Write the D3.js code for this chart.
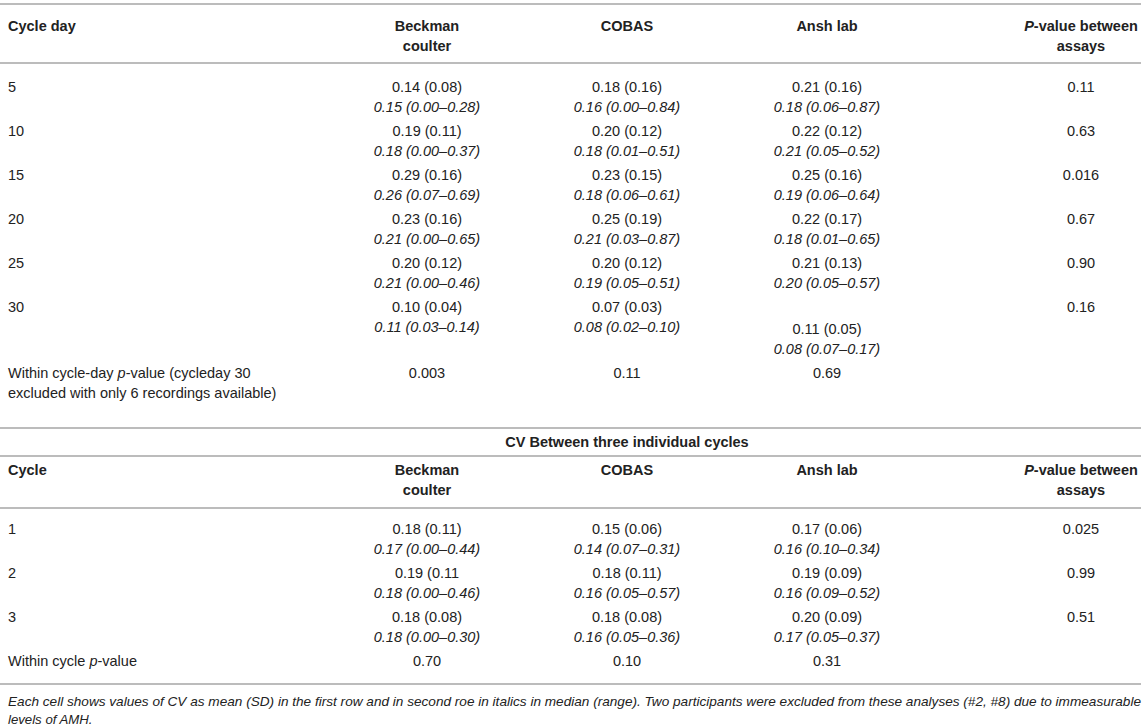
<!DOCTYPE html>
<html>
<head>
<meta charset="utf-8">
<script src="https://cdn.jsdelivr.net/npm/d3@7"></script>
<style>
  body { margin: 0; background: #fff; }
  svg text { font-family: "Liberation Sans", Arial, Helvetica, sans-serif; fill: #222; }
</style>
</head>
<body>
<svg id="table" width="1145" height="728"></svg>
<script>
// column headers
var assays = ["Beckman coulter", "COBAS", "Ansh lab"];

// CV between cycle days
var cycleDays = ["5", "10", "15", "20", "25", "30"];
var beckmanDayMean = ["0.14 (0.08)", "0.19 (0.11)", "0.29 (0.16)", "0.23 (0.16)", "0.20 (0.12)", "0.10 (0.04)"];
var beckmanDayMedian = ["0.15 (0.00–0.28)", "0.18 (0.00–0.37)", "0.26 (0.07–0.69)", "0.21 (0.00–0.65)", "0.21 (0.00–0.46)", "0.11 (0.03–0.14)"];
var cobasDayMean = ["0.18 (0.16)", "0.20 (0.12)", "0.23 (0.15)", "0.25 (0.19)", "0.20 (0.12)", "0.07 (0.03)"];
var cobasDayMedian = ["0.16 (0.00–0.84)", "0.18 (0.01–0.51)", "0.18 (0.06–0.61)", "0.21 (0.03–0.87)", "0.19 (0.05–0.51)", "0.08 (0.02–0.10)"];
var anshDayMean = ["0.21 (0.16)", "0.22 (0.12)", "0.25 (0.16)", "0.22 (0.17)", "0.21 (0.13)", "0.11 (0.05)"];
var anshDayMedian = ["0.18 (0.06–0.87)", "0.21 (0.05–0.52)", "0.19 (0.06–0.64)", "0.18 (0.01–0.65)", "0.20 (0.05–0.57)", "0.08 (0.07–0.17)"];
var dayBetweenP = ["0.11", "0.63", "0.016", "0.67", "0.90", "0.16"];
var dayWithinP = ["0.003", "0.11", "0.69"];

// CV between three individual cycles
var cycles = ["1", "2", "3"];
var beckmanCycMean = ["0.18 (0.11)", "0.19 (0.11", "0.18 (0.08)"];
var beckmanCycMedian = ["0.17 (0.00–0.44)", "0.18 (0.00–0.46)", "0.18 (0.00–0.30)"];
var cobasCycMean = ["0.15 (0.06)", "0.18 (0.11)", "0.18 (0.08)"];
var cobasCycMedian = ["0.14 (0.07–0.31)", "0.16 (0.05–0.57)", "0.16 (0.05–0.36)"];
var anshCycMean = ["0.17 (0.06)", "0.19 (0.09)", "0.20 (0.09)"];
var anshCycMedian = ["0.16 (0.10–0.34)", "0.16 (0.09–0.52)", "0.17 (0.05–0.37)"];
var cycBetweenP = ["0.025", "0.99", "0.51"];
var cycWithinP = ["0.70", "0.10", "0.31"];

var footnote = ["Each cell shows values of CV as mean (SD) in the first row and in second roe in italics in median (range). Two participants were excluded from these analyses (#2, #8) due to immeasurable",
    "levels of AMH."];

var svg = d3.select("#table");
var fs = 14.5;
var lineGap = 20;

// column centres
var x = d3.scalePoint()
    .domain(["label"].concat(assays).concat(["p"]))
    .range([227, 1027]);
// the p-value column sits a little further right
var xCol = function (k) { return k === "p" ? 1081 : x(k); };

function hline(y) {
    svg.append("line")
        .attr("x1", 0).attr("x2", 1141)
        .attr("y1", y).attr("y2", y)
        .attr("stroke", "#a6a6a6")
        .attr("stroke-width", 1.5);
}

function txt(xp, y, s, opts) {
    opts = opts || {};
    var t = svg.append("text")
        .attr("x", xp).attr("y", y)
        .attr("dy", "0.35em")
        .attr("text-anchor", opts.anchor || "middle")
        .style("font-size", (opts.size || fs) + "px");
    if (opts.bold) t.style("font-weight", "bold");
    if (opts.italic) t.style("font-style", "italic");
    t.text(s);
    return t;
}

function header(y, firstLabel) {
    txt(8, y, firstLabel, { anchor: "start", bold: true });
    txt(xCol(assays[0]), y, "Beckman", { bold: true });
    txt(xCol(assays[0]), y + lineGap, "coulter", { bold: true });
    txt(xCol(assays[1]), y, "COBAS", { bold: true });
    txt(xCol(assays[2]), y, "Ansh lab", { bold: true });
    var p = svg.append("text")
        .attr("x", xCol("p")).attr("y", y).attr("dy", "0.35em")
        .attr("text-anchor", "middle")
        .style("font-size", fs + "px").style("font-weight", "bold");
    p.append("tspan").style("font-style", "italic").text("P");
    p.append("tspan").text("-value between");
    txt(xCol("p"), y + lineGap, "assays", { bold: true });
}

// ---- top section ----
hline(4);
header(26, "Cycle day");
hline(63);

var yDay = d3.scaleLinear().domain([0, 1]).range([87, 131]);
var dayCols = [
    [beckmanDayMean, beckmanDayMedian],
    [cobasDayMean, cobasDayMedian],
    [anshDayMean, anshDayMedian]
];
cycleDays.forEach(function (d, i) {
    var y = yDay(i);
    txt(8, y, d, { anchor: "start" });
    dayCols.forEach(function (c, j) {
        // last Ansh lab cell is pushed down one half row in the source
        var yy = (i === 5 && j === 2) ? y + 22 : y;
        txt(xCol(assays[j]), yy, c[0][i]);
        txt(xCol(assays[j]), yy + lineGap, c[1][i], { italic: true });
    });
    txt(xCol("p"), y, dayBetweenP[i]);
});

var yWithin = yDay(6.5);
var w1 = svg.append("text")
    .attr("x", 8).attr("y", yWithin).attr("dy", "0.35em")
    .style("font-size", fs + "px");
w1.append("tspan").text("Within cycle-day ");
w1.append("tspan").style("font-style", "italic").text("p");
w1.append("tspan").text("-value (cycleday 30");
txt(8, yWithin + lineGap, "excluded with only 6 recordings available)", { anchor: "start" });
dayWithinP.forEach(function (v, j) { txt(xCol(assays[j]), yWithin, v); });

// ---- bottom section ----
hline(428);
txt(627, 442, "CV Between three individual cycles", { bold: true });
hline(456);
header(470, "Cycle");
hline(508);

var yCyc = d3.scaleLinear().domain([0, 1]).range([529, 573]);
var cycCols = [
    [beckmanCycMean, beckmanCycMedian],
    [cobasCycMean, cobasCycMedian],
    [anshCycMean, anshCycMedian]
];
cycles.forEach(function (d, i) {
    var y = yCyc(i);
    txt(8, y, d, { anchor: "start" });
    cycCols.forEach(function (c, j) {
        txt(xCol(assays[j]), y, c[0][i]);
        txt(xCol(assays[j]), y + lineGap, c[1][i], { italic: true });
    });
    txt(xCol("p"), y, cycBetweenP[i]);
});

var yW2 = yCyc(3);
var w2 = svg.append("text")
    .attr("x", 8).attr("y", yW2).attr("dy", "0.35em")
    .style("font-size", fs + "px");
w2.append("tspan").text("Within cycle ");
w2.append("tspan").style("font-style", "italic").text("p");
w2.append("tspan").text("-value");
cycWithinP.forEach(function (v, j) { txt(xCol(assays[j]), yW2, v); });

hline(684);

// footnote
txt(8, 701, footnote[0], { anchor: "start", italic: true, size: 13.2 })
    .attr("textLength", 1133).attr("lengthAdjust", "spacingAndGlyphs");
txt(8, 719, footnote[1], { anchor: "start", italic: true, size: 13.2 });
</script>
</body>
</html>
